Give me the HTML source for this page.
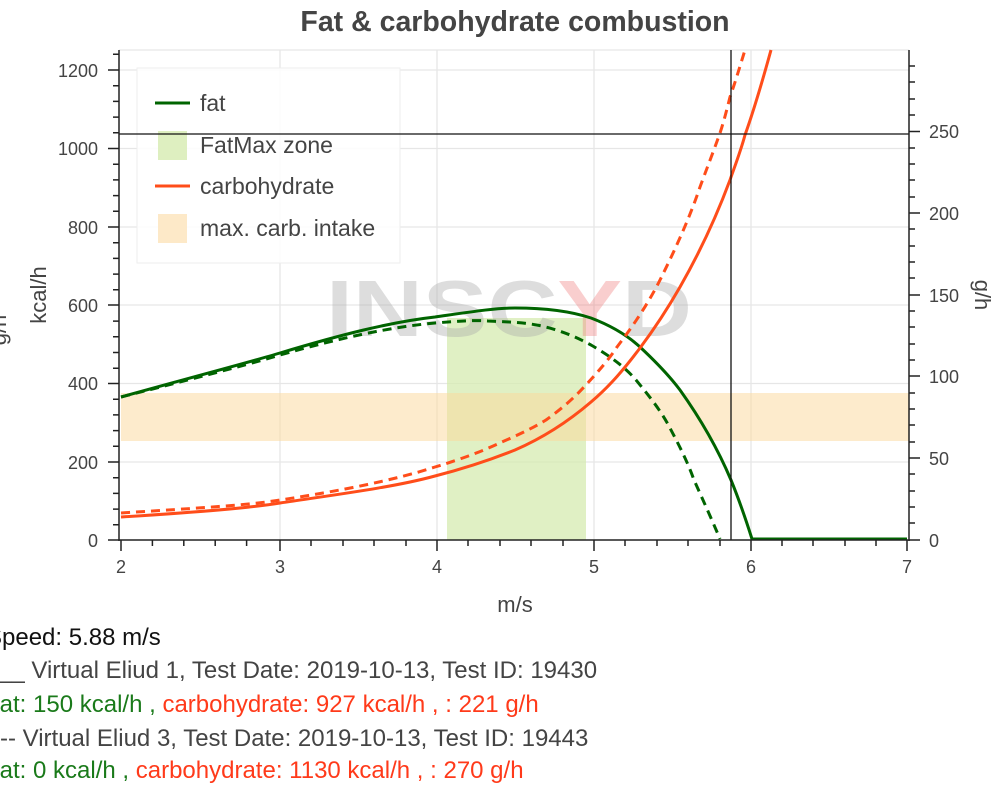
<!DOCTYPE html>
<html><head><meta charset="utf-8"><style>
html,body{margin:0;padding:0;background:#fff;width:1000px;height:786px;overflow:hidden}
svg{display:block;font-family:"Liberation Sans",Arial,sans-serif}
</style></head><body>
<svg width="1000" height="786" viewBox="0 0 1000 786">
<text x="515" y="31" text-anchor="middle" font-size="28.5" font-weight="bold" fill="#444">Fat &amp; carbohydrate combustion</text>
<!-- grid -->
<g stroke="#e6e6e6" stroke-width="1.3">
<line x1="280" y1="50" x2="280" y2="540"/><line x1="437" y1="50" x2="437" y2="540"/><line x1="594" y1="50" x2="594" y2="540"/><line x1="751" y1="50" x2="751" y2="540"/>
<line x1="119" y1="70" x2="909" y2="70"/><line x1="119" y1="148.5" x2="909" y2="148.5"/><line x1="119" y1="227" x2="909" y2="227"/><line x1="119" y1="305" x2="909" y2="305"/><line x1="119" y1="383.5" x2="909" y2="383.5"/><line x1="119" y1="462" x2="909" y2="462"/>
<line x1="119" y1="50" x2="909" y2="50"/>
</g>
<!-- zones -->
<rect x="447" y="318" width="139" height="222" fill="#d6ebb0" opacity="0.75"/>
<rect x="121" y="393" width="788" height="48" fill="#fbd89a" opacity="0.5"/>
<!-- watermark -->
<text x="326" y="336" font-size="80" font-weight="bold" fill="#a8a8a8" opacity="0.38" textLength="366" lengthAdjust="spacingAndGlyphs">INSC<tspan fill="#f08080">Y</tspan>D</text>
<!-- legend -->
<rect x="137" y="68" width="263" height="195" fill="#fff" fill-opacity="0.85" stroke="#eee"/>
<line x1="155" y1="103" x2="190" y2="103" stroke="#006400" stroke-width="3"/>
<text x="200" y="111" font-size="23" fill="#444">fat</text>
<rect x="158" y="131" width="29" height="29" fill="#d6ebb0" opacity="0.8"/>
<text x="200" y="153" font-size="23" fill="#444">FatMax zone</text>
<line x1="155" y1="186" x2="190" y2="186" stroke="#ff4d1a" stroke-width="3"/>
<text x="200" y="194" font-size="23" fill="#444">carbohydrate</text>
<rect x="158" y="214" width="29" height="29" fill="#fde9c8"/>
<text x="200" y="236" font-size="23" fill="#444">max. carb. intake</text>
<!-- curves -->
<g fill="none" stroke-width="3" stroke-linejoin="round">
<path stroke="#006400" d="M121,397 C200,375 250,362 280,353 C340,335 390,322 435,317 C470,312 495,308 515,308 C545,308 570,311 591,318 C612,326 627,335 640,347 C655,361 668,374 680,390 C700,418 717,447 731,480 C740,502 746,520 752,539 L907,539"/>
<path stroke="#006400" stroke-dasharray="9,6" d="M121,397 C200,377 250,364 280,355 C340,338 390,327 435,323 C460,321 475,320 488,321 C515,322 530,323 546,327 C565,332 578,338 591,345 C610,356 625,367 636,380 C650,397 662,412 671,430 C680,447 688,463 694,480 C703,500 712,520 720,539"/>
<path stroke="#ff4d1a" d="M121,517 C200,512 250,508 280,503 C340,494 395,487 435,476 C470,467 495,458 515,450 C545,437 570,420 591,402 C610,386 625,368 640,348 C655,328 668,308 680,287 C700,252 717,215 730,180 C736,163 741,150 745,135 C755,107 763,79 771,50"/>
<path stroke="#ff4d1a" stroke-dasharray="9,6" d="M121,513 C200,508 250,505 280,500 C340,491 395,480 435,467 C465,458 485,450 502,442 C520,434 533,428 546,420 C560,410 573,399 584,387 C598,372 610,358 617,347 C633,326 648,304 660,280 C675,250 690,217 700,187 C707,168 714,150 720,133 C724,121 727,109 730,97 C736,80 740,66 745,50"/>
</g>
<!-- crosshair -->
<line x1="119" y1="134" x2="909" y2="134" stroke="#111" stroke-width="1.3"/>
<line x1="731" y1="50" x2="731" y2="540" stroke="#111" stroke-width="1.3"/>
<!-- axes -->
<g stroke="#222" stroke-width="1.5">
<line x1="119" y1="50" x2="119" y2="541"/>
<line x1="909" y1="50" x2="909" y2="541"/>
<line x1="119" y1="540" x2="909" y2="540"/>
<path d="M108,70H119M108,148.5H119M108,227H119M108,305H119M108,383.5H119M108,462H119M108,540H119"/>
<path d="M113,54.3H119M113,85.7H119M113,101.4H119M113,117.1H119M113,132.8H119M113,164.2H119M113,179.9H119M113,195.6H119M113,211.3H119M113,242.7H119M113,258.4H119M113,274.1H119M113,289.8H119M113,321.1H119M113,336.8H119M113,352.5H119M113,368.2H119M113,399.2H119M113,414.9H119M113,430.6H119M113,446.3H119M113,477.7H119M113,493.4H119M113,509.1H119M113,524.8H119"/>
<path d="M909,131.5H920M909,213H920M909,295H920M909,376H920M909,458H920M909,540H920"/>
<path d="M909,66H915M909,82H915M909,99H915M909,115H915M909,148H915M909,164H915M909,180H915M909,197H915M909,229H915M909,246H915M909,262H915M909,278H915M909,311H915M909,327H915M909,344H915M909,360H915M909,393H915M909,409H915M909,425H915M909,442H915M909,474H915M909,491H915M909,507H915M909,523H915"/>
<path d="M121,540V551M280,540V551M437,540V551M594,540V551M751,540V551M907,540V551"/>
<path d="M152.4,540V546M183.8,540V546M215.2,540V546M246.6,540V546M311,540V546M343,540V546M374,540V546M406,540V546M468,540V546M500,540V546M531,540V546M563,540V546M625,540V546M657,540V546M688,540V546M720,540V546M782,540V546M813,540V546M845,540V546M876,540V546"/>
</g>
<g font-size="18" fill="#444" text-anchor="end">
<text x="98" y="77">1200</text><text x="98" y="155">1000</text><text x="98" y="234">800</text><text x="98" y="312">600</text><text x="98" y="390">400</text><text x="98" y="469">200</text><text x="98" y="547">0</text>
</g>
<g font-size="18" fill="#444">
<text x="929" y="138">250</text><text x="929" y="220">200</text><text x="929" y="302">150</text><text x="929" y="383">100</text><text x="929" y="465">50</text><text x="929" y="547">0</text>
</g>
<g font-size="18" fill="#444" text-anchor="middle">
<text x="121" y="573">2</text><text x="280" y="573">3</text><text x="437" y="573">4</text><text x="594" y="573">5</text><text x="751" y="573">6</text><text x="907" y="573">7</text>
</g>
<text x="515" y="612" font-size="22" fill="#444" text-anchor="middle">m/s</text>
<text transform="translate(46,295) rotate(-90)" font-size="22" fill="#444" text-anchor="middle">kcal/h</text>
<text transform="translate(6,330) rotate(-90)" font-size="22" fill="#444" text-anchor="middle">g/h</text>
<text transform="translate(975,295) rotate(90)" font-size="22" fill="#444" text-anchor="middle">g/h</text>
<!-- bottom info -->
<g font-size="24">
<text x="-14" y="645" fill="#111">Speed: 5.88 m/s</text>
<text x="-2" y="678" fill="#444">__ Virtual Eliud 1, Test Date: 2019-10-13, Test ID: 19430</text>
<text x="-7" y="712"><tspan fill="#1a7a1a">fat: 150 kcal/h , </tspan><tspan fill="#ff3a1a">carbohydrate: 927 kcal/h , : 221 g/h</tspan></text>
<text x="-8" y="746" fill="#444">--- Virtual Eliud 3, Test Date: 2019-10-13, Test ID: 19443</text>
<text x="-7" y="778"><tspan fill="#1a7a1a">fat: 0 kcal/h , </tspan><tspan fill="#ff3a1a">carbohydrate: 1130 kcal/h , : 270 g/h</tspan></text>
</g>
</svg>
</body></html>
